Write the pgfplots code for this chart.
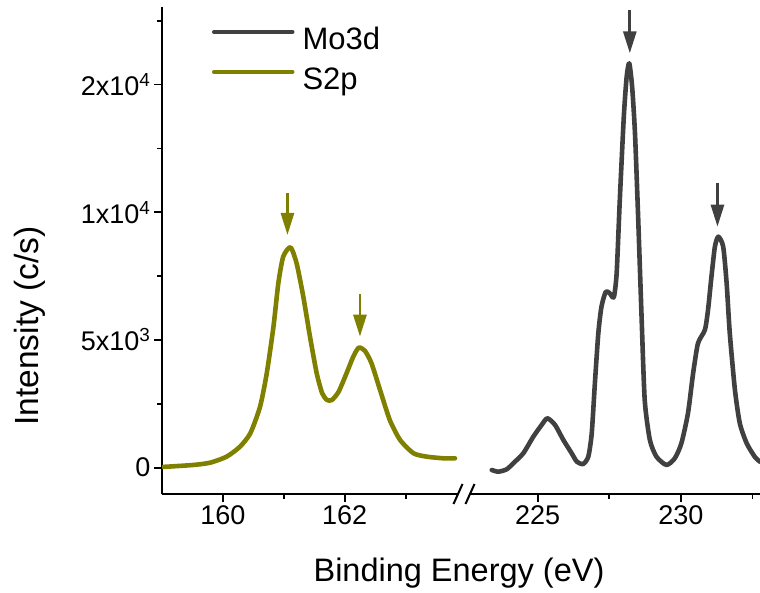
\documentclass[border=0pt]{standalone}
\usepackage{fontspec}
\setmainfont{Liberation Sans}
\usepackage{pgfplots}
\pgfplotsset{compat=1.18}
\usetikzlibrary{arrows.meta}
\definecolor{moGray}{HTML}{404040}
\definecolor{sOlive}{HTML}{808000}

\pgfplotstableread{
x y
159.02 30
159.51 106
159.79 196
160.06 431
160.28 822
160.45 1347
160.61 2388
160.72 3696
160.83 5520
160.91 7219
160.99 8261
161.11 8629
161.21 8002
161.32 6695
161.43 5129
161.54 3696
161.63 2913
161.71 2650
161.79 2650
161.90 2975
162.03 3696
162.14 4346
162.23 4698
162.33 4580
162.44 4087
162.58 3042
162.74 1867
162.91 1084
163.13 564
163.35 431
163.62 368
163.81 368
}\stwop

\pgfplotstableread{
x y
223.40 -90
223.63 -157
223.92 -63
224.15 172
224.50 564
224.85 1214
225.14 1672
225.34 1934
225.61 1672
225.90 1084
226.19 564
226.37 235
226.59 145
226.77 431
226.89 1347
227.00 3304
227.12 5262
227.23 6303
227.38 6890
227.52 6828
227.66 6671
227.76 7611
227.87 10481
228.01 13742
228.11 15308
228.20 15832
228.30 14916
228.40 13092
228.51 9827
228.63 5912
228.74 2650
228.92 1084
229.15 431
229.50 106
229.79 368
230.02 955
230.25 2130
230.43 3696
230.60 4870
230.84 5391
230.95 6174
231.07 7478
231.19 8652
231.31 9044
231.48 8652
231.60 7219
231.71 5262
231.89 3042
232.06 1738
232.30 955
232.58 431
232.76 235
}\mothreed

\begin{document}
\begin{tikzpicture}[x=1pt,y=1pt]
\useasboundingbox (0,0) rectangle (760,592);
\pgfplotsset{
  common/.style={
    scale only axis,
    ymin=-1030, ymax=18036,
    axis line style={line width=2pt, black},
    tick align=outside,
    major tick length=8pt, minor tick length=5pt,
    every tick/.style={line width=1.8pt, black},
    tick label style={font=\fontsize{27}{32}\selectfont},
    scaled y ticks=false,
  },
  curve/.style={line width=4.6pt, line join=round, line cap=round, smooth, tension=0.4},
}
\begin{axis}[common, at={(162pt,98pt)}, anchor=south west, width=296pt, height=487pt,
  xmin=159, xmax=163.86,
  axis x line*=bottom, axis y line*=left,
  xtick={160,162}, xticklabels={160,162}, minor xtick={161,163},
  ytick={0,5000,10000,15000},
  yticklabels={0,5x10\textsuperscript{3},1x10\textsuperscript{4},2x10\textsuperscript{4}},
  minor ytick={2500,7500,12500,17500},
  legend style={at={(axis cs:159.82,17214)}, anchor=north west, draw=none, fill=none,
    inner sep=0pt, outer sep=0pt, row sep=12pt, column sep=8pt,
    font=\fontsize{31}{36}\selectfont,
    nodes={inner sep=0pt, text height=22pt, text depth=6pt}},
  legend cell align=left,
  legend image code/.code={\draw[#1] (0pt,10pt) -- (78pt,10pt);},
]
\addlegendimage{moGray, line width=4.6pt, line cap=round}
\addlegendentry{Mo3d}
\addplot[sOlive, curve] table {\stwop};
\addlegendentry{S2p}
\draw[sOlive, line width=2.8pt, -{Triangle[length=22pt,width=13pt]}] (axis cs:161.06,10743) -- (axis cs:161.06,9110);
\draw[sOlive, line width=2.8pt, -{Triangle[length=22pt,width=13pt]}] (axis cs:162.25,6800) -- (axis cs:162.25,5129);
\end{axis}
\begin{axis}[common, at={(470pt,98pt)}, anchor=south west, width=291pt, height=487pt,
  xmin=222.64, xmax=232.8,
  axis x line*=bottom, axis y line=none, ytick=\empty,
  xtick={225,230}, xticklabels={225,230}, minor xtick={227.5,232.5},
]
\addplot[moGray, curve] table {\mothreed};
\draw[moGray, line width=2.8pt, -{Triangle[length=22pt,width=13pt]}] (axis cs:228.22,17919) -- (axis cs:228.22,16224);
\draw[moGray, line width=2.8pt, -{Triangle[length=22pt,width=13pt]}] (axis cs:231.28,11158) -- (axis cs:231.28,9435);
\end{axis}
\draw[line width=2pt] (453.5,88) -- (462.5,108);
\draw[line width=2pt] (465.5,88) -- (474.5,108);
\node[anchor=base, inner sep=0pt, font=\fontsize{32.5}{38}\selectfont] at (459,10.3) {Binding Energy (eV)};
\node[anchor=base, rotate=90, inner sep=0pt, font=\fontsize{33.5}{40}\selectfont] at (38,266) {Intensity (c/s)};
\end{tikzpicture}
\end{document}
